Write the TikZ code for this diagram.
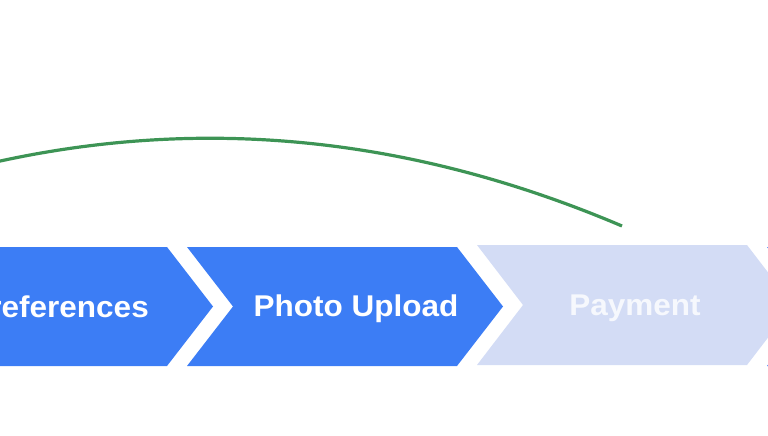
\documentclass[tikz,border=0pt]{standalone}
\usepackage{fontspec}
\setmainfont{Liberation Sans}
\newfontfamily\lblfont[FakeStretch=1.05]{Liberation Sans}
\definecolor{stepblue}{HTML}{3C7DF5}
\definecolor{steplight}{HTML}{D3DCF5}
\definecolor{arcgreen}{HTML}{3D9455}

\begin{document}
\begin{tikzpicture}[x=1pt,y=-1pt,
    lbl/.style={text=white, font=\lblfont\fontsize{30}{36}\selectfont\bfseries, inner sep=0pt}]
    \useasboundingbox (0,0) rectangle (768,436);
    \clip (0,0) rectangle (768,436);
    % chevrons: left corner/top/bottom/colour
    \foreach \x/\t/\b/\c in {-103/247/366/stepblue,187/247/366/stepblue,477/245/365/steplight,767/247/366/stepblue}{
        \fill[\c] (\x,\t) -- ++(270,0) -- (\x+316,{(\t+\b)/2}) -- (\x+270,\b) -- (\x,\b) -- (\x+46,{(\t+\b)/2}) -- cycle;
    }
    \node[lbl, anchor=base east] (pref) at (149,317) {Preferences};
    \node[lbl, anchor=base] (photo) at (356,316) {Photo Upload};
    \node[lbl, anchor=base, text=white!80!steplight] (pay) at (635,315) {Payment};
    \coordinate (arcL) at (-202,226);
    \coordinate (arcR) at (622,226);
    \draw[arcgreen, line width=3.2pt] (arcL) .. controls (73,109) and (347,109) .. (arcR);
\end{tikzpicture}
\end{document}
